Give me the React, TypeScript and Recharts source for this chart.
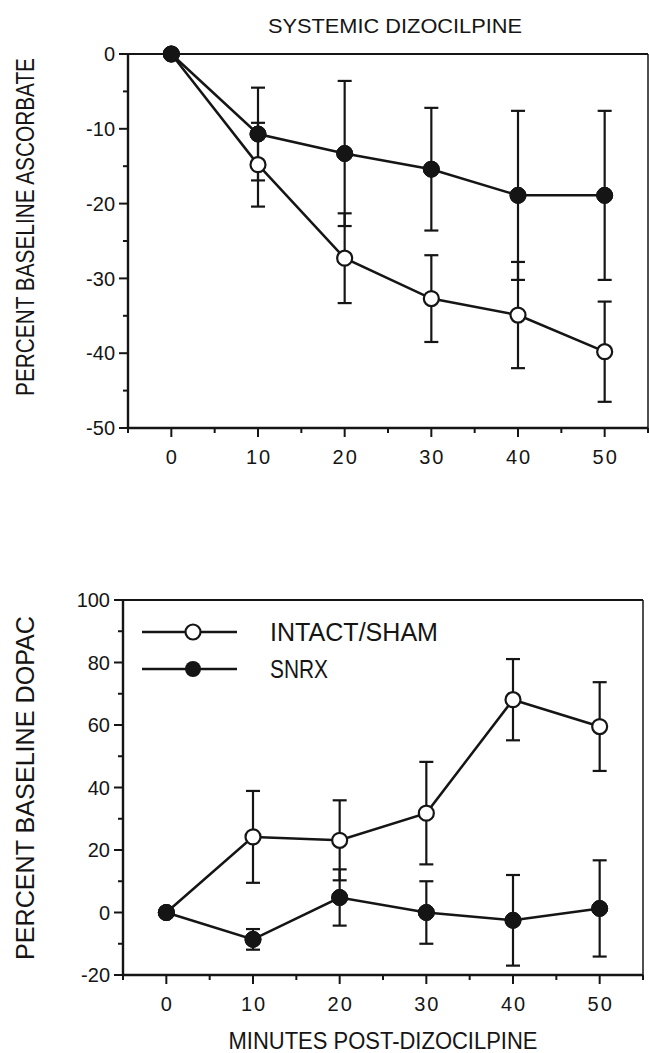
import { LineChart, Line, XAxis, YAxis, ErrorBar, ReferenceLine, Legend } from "recharts";

const minutes = [0, 10, 20, 30, 40, 50];

// top panel: percent baseline ascorbate
const ascIntact = [0, -14.8, -27.3, -32.7, -34.9, -39.8];
const ascIntactSem = [0, 5.6, 6.0, 5.8, 7.1, 6.7];
const ascSnrx = [0, -10.7, -13.3, -15.4, -18.9, -18.9];
const ascSnrxSem = [0, 6.2, 9.7, 8.2, 11.3, 11.3];

// bottom panel: percent baseline DOPAC
const dopacIntact = [0, 24.2, 23.1, 31.8, 68.1, 59.5];
const dopacIntactSem = [0, 14.7, 12.8, 16.4, 13.0, 14.2];
const dopacSnrx = [0, -8.6, 4.8, 0, -2.5, 1.3];
const dopacSnrxSem = [0, 3.3, 9.0, 10.0, 14.5, 15.4];

const minuteTicks = [-5, 0, 5, 10, 15, 20, 25, 30, 35, 40, 45, 50, 55];
const ascTicks = [-50, -45, -40, -35, -30, -25, -20, -15, -10, -5, 0];
const dopacTicks = [-20, -10, 0, 10, 20, 30, 40, 50, 60, 70, 80, 90, 100];

const FONT = "'Liberation Sans', Arial, Helvetica, sans-serif";
const INK = "#151515";

const ascData = minutes.map((m, i) => ({
  minute: m,
  intact: ascIntact[i],
  intactSem: ascIntactSem[i],
  snrx: ascSnrx[i],
  snrxSem: ascSnrxSem[i],
}));

const dopacData = minutes.map((m, i) => ({
  minute: m,
  intact: dopacIntact[i],
  intactSem: dopacIntactSem[i],
  snrx: dopacSnrx[i],
  snrxSem: dopacSnrxSem[i],
}));

const openDot = { r: 7.5, fill: "#fff", stroke: INK, strokeWidth: 2.2 };
const filledDot = { r: 8, fill: INK, stroke: INK, strokeWidth: 1 };

function makeYTick(labelStep: number) {
  return (props: any) => {
    const { x, y, payload } = props;
    const major = payload.value % labelStep === 0;
    const len = major ? 9 : 5;
    return (
      <g>
        <line x1={x - len} x2={x} y1={y} y2={y} stroke={INK} strokeWidth={2} />
        {major && (
          <text x={x - 13} y={y} dy="0.36em" textAnchor="end" fontSize={20} fontFamily={FONT} fill={INK}>
            {payload.value}
          </text>
        )}
      </g>
    );
  };
}

function XTick(props: any) {
  const { x, y, payload } = props;
  const v = payload.value;
  const major = v % 10 === 0 && v >= 0 && v <= 50;
  const len = major ? 9 : 5;
  return (
    <g>
      <line x1={x} x2={x} y1={y} y2={y + len} stroke={INK} strokeWidth={2} />
      {major && (
        <text x={x + 1} y={y + 29} dy="0.36em" textAnchor="middle" fontSize={20} letterSpacing={2} fontFamily={FONT} fill={INK}>
          {v}
        </text>
      )}
    </g>
  );
}

function DopacLegend() {
  return (
    <svg width={330} height={72} style={{ overflow: "visible" }}>
      <line x1={12} x2={107} y1={17} y2={17} stroke={INK} strokeWidth={2.5} />
      <circle cx={63} cy={17} r={7.5} fill="#fff" stroke={INK} strokeWidth={2.2} />
      <text x={140} y={17} dy="0.36em" fontSize={25} fontFamily={FONT} fill={INK} textLength={168} lengthAdjust="spacingAndGlyphs">
        INTACT/SHAM
      </text>
      <line x1={12} x2={107} y1={54} y2={54} stroke={INK} strokeWidth={2.5} />
      <circle cx={63} cy={54} r={8} fill={INK} />
      <text x={140} y={54} dy="0.36em" fontSize={25} fontFamily={FONT} fill={INK} textLength={58} lengthAdjust="spacingAndGlyphs">
        SNRX
      </text>
    </svg>
  );
}

function Panel({
  data,
  yTicks,
  yDomain,
  labelStep,
  width,
  height,
  margin,
  yAxisWidth,
  legend,
}: {
  data: any[];
  yTicks: number[];
  yDomain: [number, number];
  labelStep: number;
  width: number;
  height: number;
  margin: { top: number; right: number; bottom: number; left: number };
  yAxisWidth: number;
  legend?: boolean;
}) {
  return (
    <LineChart width={width} height={height} data={data} margin={margin}>
      <XAxis
        dataKey="minute"
        type="number"
        domain={[-5, 55]}
        ticks={minuteTicks}
        interval={0}
        height={42}
        tickSize={0}
        tickMargin={0}
        tickLine={false}
        tick={XTick}
        axisLine={{ stroke: INK, strokeWidth: 2.4 }}
      />
      <YAxis
        type="number"
        domain={yDomain}
        ticks={yTicks}
        interval={0}
        width={yAxisWidth}
        tickSize={0}
        tickMargin={0}
        tickLine={false}
        tick={makeYTick(labelStep)}
        axisLine={{ stroke: INK, strokeWidth: 2.4 }}
      />
      <ReferenceLine y={yDomain[1]} stroke={INK} strokeWidth={2} />
      <ReferenceLine x={55} stroke={INK} strokeWidth={1.5} />
      <Line dataKey="snrx" stroke={INK} strokeWidth={2.5} dot={filledDot} activeDot={false} isAnimationActive={false}>
        <ErrorBar dataKey="snrxSem" width={7} stroke={INK} strokeWidth={2.2} direction="y" />
      </Line>
      <Line dataKey="intact" stroke={INK} strokeWidth={2.5} dot={openDot} activeDot={false} isAnimationActive={false}>
        <ErrorBar dataKey="intactSem" width={7} stroke={INK} strokeWidth={2.2} direction="y" />
      </Line>
      {/* SNRX markers again so the filled circle sits on top at t = 0 */}
      <Line dataKey="snrx" stroke="none" dot={filledDot} activeDot={false} legendType="none" isAnimationActive={false} />
      {legend && (
        <Legend
          layout="vertical"
          align="center"
          verticalAlign="middle"
          content={() => <DopacLegend />}
          wrapperStyle={{ position: "absolute", left: 130, top: 75, width: 330, height: 72 }}
        />
      )}
    </LineChart>
  );
}

function Captions() {
  return (
    <svg width={649} height={1053} style={{ position: "absolute", left: 0, top: 0, pointerEvents: "none" }}>
      <text x={395} y={25} dy="0.36em" textAnchor="middle" fontSize={21} fontFamily={FONT} fill={INK} textLength={254} lengthAdjust="spacingAndGlyphs">
        SYSTEMIC DIZOCILPINE
      </text>
      <text
        transform="translate(25,227) rotate(-90)"
        dy="0.36em"
        textAnchor="middle"
        fontSize={25}
        fontFamily={FONT}
        fill={INK}
        textLength={338}
        lengthAdjust="spacingAndGlyphs"
      >
        PERCENT BASELINE ASCORBATE
      </text>
      <text
        transform="translate(25,788) rotate(-90)"
        dy="0.36em"
        textAnchor="middle"
        fontSize={25}
        fontFamily={FONT}
        fill={INK}
        textLength={344}
        lengthAdjust="spacingAndGlyphs"
      >
        PERCENT BASELINE DOPAC
      </text>
      <text x={383} y={1041} dy="0.36em" textAnchor="middle" fontSize={23} fontFamily={FONT} fill={INK} textLength={309} lengthAdjust="spacingAndGlyphs">
        MINUTES POST-DIZOCILPINE
      </text>
    </svg>
  );
}

export default function App() {
  return (
    <div style={{ position: "absolute", left: 0, top: 0, width: 649, height: 1053, background: "#fff", overflow: "hidden" }}>
      <div style={{ position: "absolute", left: 0, top: 0 }}>
        <Panel
          data={ascData}
          yTicks={ascTicks}
          yDomain={[-50, 0]}
          labelStep={10}
          width={649}
          height={470}
          margin={{ top: 54, right: 1, bottom: 0, left: 0 }}
          yAxisWidth={128}
        />
      </div>
      <div style={{ position: "absolute", left: 0, top: 540 }}>
        <Panel
          data={dopacData}
          yTicks={dopacTicks}
          yDomain={[-20, 100]}
          labelStep={20}
          width={649}
          height={477}
          margin={{ top: 60, right: 6, bottom: 0, left: 0 }}
          yAxisWidth={123}
          legend
        />
      </div>
      <Captions />
    </div>
  );
}
